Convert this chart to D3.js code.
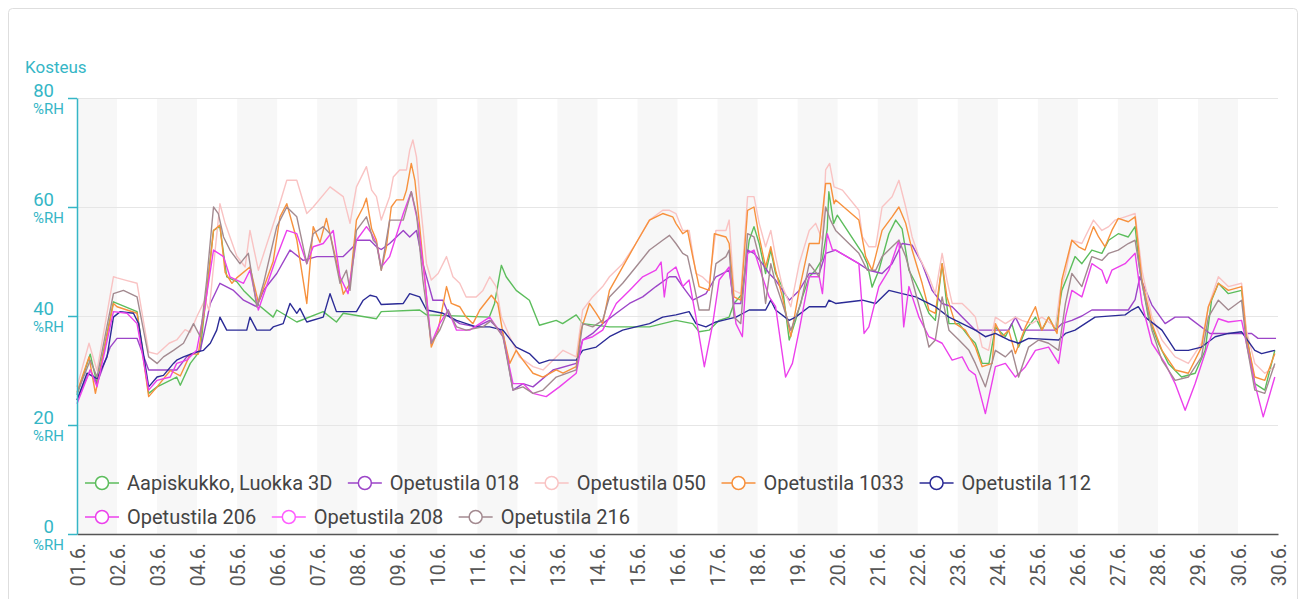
<!DOCTYPE html>
<html>
<head>
<meta charset="utf-8">
<script src="https://cdn.jsdelivr.net/npm/d3@7"></script>
<style>
  body { margin: 0; background: #fff; font-family: Roboto, "Liberation Sans", sans-serif; }
  .grid line { stroke: #e6e6e6; }
  .grid path { display: none; }
  .line { fill: none; stroke-width: 1.4; stroke-linejoin: round; }
</style>
</head>
<body>
<script>
// Data // ----------------------------------------------------------------------
// each point is [days since 01.6. 00:00, relative humidity %RH]
var startDate = new Date(2021, 5, 1);
var endDate = new Date(2021, 5, 30, 23, 59);

var yTicks = [0, 20, 40, 60, 80];
var yUnit = "%RH";
var yTitle = "Kosteus";

var seriesNames = ["Aapiskukko, Luokka 3D", "Opetustila 018", "Opetustila 050", "Opetustila 1033",
                   "Opetustila 112", "Opetustila 206", "Opetustila 208", "Opetustila 216"];

var rhAapiskukko = [[0,25.5],[0.33,33],[0.5,27.6],[0.91,42.6],[1.5,40.8],[1.79,25.8],[2.0,27],[2.49,28.8],[2.58,27.3],[2.83,31.3],[3.08,33.7],[3.24,44.7],[3.41,55.7],[3.57,56.4],[3.74,47.2],[3.99,46.3],[4.16,44.7],[4.49,42.3],[4.9,39.8],[4.99,41.1],[5.49,38.9],[6.15,40.8],[6.48,38.9],[6.65,40.5],[7.48,39.5],[7.6,40.8],[8.56,41.1],[8.73,40.2],[10.3,39.8],[10.43,42.3],[10.6,49.3],[10.72,47.2],[10.97,44.7],[11.3,42.9],[11.55,38.3],[11.97,39.2],[12.13,38.6],[12.47,40.2],[12.63,38.6],[13.3,38],[14.3,38],[14.96,39.2],[15.38,38.6],[15.54,37.1],[15.79,37.4],[16.04,39.2],[16.29,39.8],[16.41,42.3],[16.62,44.1],[16.79,53.9],[16.91,56.4],[17.04,53.3],[17.2,47.8],[17.33,52.1],[17.45,47.8],[17.62,45.3],[17.79,35.6],[17.95,39.2],[18.12,43.5],[18.29,47.2],[18.45,48.4],[18.62,50.5],[18.74,56],[18.78,62.8],[18.9,57],[18.99,58.5],[19.62,51.5],[19.74,49.6],[19.86,45.3],[20.03,48.4],[20.28,55.1],[20.45,57.6],[20.61,56],[20.78,48.4],[20.95,46],[21.11,43.5],[21.28,40.5],[21.44,39.2],[21.61,49.6],[21.78,38.6],[22.03,38.6],[22.28,36.2],[22.44,35],[22.61,31.3],[22.78,31.3],[22.94,38],[23.19,36.2],[23.35,38.6],[23.52,34.3],[23.69,37.4],[23.94,39.8],[24.1,37.4],[24.27,39.8],[24.44,37.4],[24.6,44.7],[24.77,47.8],[24.93,50.9],[25.1,49.6],[25.35,52.1],[25.6,51.5],[25.77,53.9],[26.01,55.1],[26.26,54.5],[26.43,56.4],[26.55,48.4],[26.76,39.8],[27.01,35],[27.26,31.3],[27.59,28.8],[27.93,29.5],[28.18,33.7],[28.34,42.9],[28.51,46],[28.76,44.1],[29.09,44.7],[29.21,36.8],[29.42,27.6],[29.67,26.4],[29.92,33.7]];

var rh018 = [[0,24.6],[0.33,30.1],[0.5,27.6],[0.83,34.3],[1.0,35.9],[1.5,35.9],[1.79,30.1],[2.49,30.1],[2.74,32.5],[3.08,33.7],[3.33,42.3],[3.57,46],[3.91,44.7],[4.16,42.9],[4.49,41.7],[4.66,44.7],[4.99,47.8],[5.32,52.1],[5.65,50.2],[5.99,50.9],[6.65,50.9],[6.9,52.7],[6.98,53.9],[7.32,53.9],[7.48,52.7],[7.6,52.2],[7.81,53.3],[8.15,55.7],[8.31,54.5],[8.48,55.7],[8.64,49.6],[8.89,42.9],[9.14,42.9],[9.31,39.8],[9.56,38.6],[9.97,38],[10.31,39.2],[10.64,36.8],[10.89,26.4],[11.14,27.6],[11.39,27],[11.89,30.1],[12.47,31.3],[12.63,35.6],[12.88,36.8],[13.13,38.6],[13.47,40.5],[13.8,42.3],[14.13,43.5],[14.46,45.4],[14.8,47.2],[14.96,47.2],[15.13,45.4],[15.38,42.9],[15.71,44.1],[15.96,47.2],[16.29,48.4],[16.41,42.3],[16.58,42.3],[16.75,52.1],[16.91,51.5],[17.12,49.6],[17.29,47.8],[17.45,46.6],[17.79,42.9],[18.04,44.7],[18.29,47.8],[18.54,47.8],[18.7,51.5],[18.95,52.1],[19.53,49.6],[19.78,48.4],[20.11,47.8],[20.36,49.6],[20.61,53.3],[20.86,53],[21.11,49.6],[21.36,44.7],[21.61,42.3],[21.86,41.7],[22.11,39.8],[22.44,37.4],[23.27,37.4],[23.44,39.8],[23.6,37.4],[24.44,37.4],[24.6,38.6],[24.85,39.2],[25.1,40],[25.35,41.1],[26.26,41.1],[26.43,43],[26.55,47.2],[26.85,42],[27.18,38.6],[27.43,39.8],[27.76,39.8],[28.3,36.8],[29.34,36.8],[29.5,35.9],[29.95,35.9]];

var rh050 = [[0,27],[0.3,35],[0.5,30],[0.91,47.2],[1.0,47],[1.25,46.5],[1.5,46],[1.79,33.4],[2.0,33],[2.3,35],[2.49,35.6],[2.7,37.5],[2.83,37],[3.0,40],[3.2,43],[3.3,41],[3.45,52],[3.57,60.6],[3.7,57],[3.99,51],[4.2,49],[4.32,55.7],[4.53,48.4],[4.99,58.8],[5.24,64.9],[5.49,64.9],[5.74,58.8],[5.9,60],[6.32,63.7],[6.65,61.9],[6.82,57],[6.98,63.7],[7.23,67.4],[7.36,63.1],[7.48,61.9],[7.6,57.6],[7.81,61.9],[7.9,65.5],[8.06,66.8],[8.23,66.8],[8.31,70.4],[8.39,72.3],[8.48,69.2],[8.56,61.9],[8.73,49.6],[8.85,46.6],[9.02,47.8],[9.23,50.9],[9.39,47.2],[9.56,46],[9.72,43.5],[9.97,43.5],[10.14,44.7],[10.31,47.2],[10.47,45.4],[10.6,39.8],[10.81,36.2],[11.05,32.5],[11.39,30.7],[11.64,30.1],[12.14,33.7],[12.47,32.5],[12.63,41.1],[12.88,43.5],[13.13,45.4],[13.3,47.2],[13.63,49.6],[13.96,53.3],[14.3,57.6],[14.63,59.4],[14.8,59.4],[14.96,58.8],[15.13,55.7],[15.29,55.7],[15.46,47.8],[15.62,47.2],[15.79,46],[15.96,55.7],[16.21,55.7],[16.29,57.6],[16.41,44.7],[16.58,44.1],[16.75,61.9],[16.91,61.9],[17.04,57],[17.2,52.7],[17.33,55.7],[17.45,50.9],[17.62,45.4],[17.83,41.7],[18.04,49.6],[18.29,55.7],[18.45,57],[18.62,53.9],[18.7,66.8],[18.8,68],[18.91,63.7],[19.12,63.1],[19.53,59.4],[19.62,54.5],[19.78,52.7],[19.95,52.7],[20.11,60],[20.36,61.9],[20.53,64.9],[20.7,60],[20.86,54.5],[21.03,50.9],[21.28,47.2],[21.44,44.1],[21.61,51.5],[21.73,46.6],[21.86,42.3],[22.11,42.3],[22.28,41.1],[22.44,39.8],[22.61,34.3],[22.77,33.7],[22.94,39.8],[23.19,38.6],[23.44,39.8],[23.6,39.2],[23.85,38.6],[24.1,39.8],[24.44,38],[24.56,44.7],[24.69,47.8],[24.85,53.9],[25.1,53.3],[25.39,57.6],[25.6,55.7],[25.77,56.4],[25.93,57.6],[26.18,58.2],[26.43,58.8],[26.6,48.4],[26.85,39.8],[27.1,35.6],[27.43,32.5],[27.76,31.3],[28.09,35],[28.26,41.7],[28.51,47.2],[28.76,45.4],[29.09,46],[29.21,37.4],[29.42,31.3],[29.67,29.5],[29.92,30.7]];

var rh1033 = [[0,26],[0.3,32.5],[0.46,25.8],[0.91,42.3],[1.0,41.7],[1.5,40.5],[1.79,25.2],[2.0,27],[2.33,30],[2.58,29],[2.83,33],[3.03,33],[3.24,44],[3.41,55.7],[3.57,56.7],[3.7,48],[3.87,46],[3.99,47],[4.32,49],[4.53,42.5],[4.9,50],[5.07,58.2],[5.24,60.6],[5.49,54],[5.74,42.3],[5.9,56.4],[6.07,53.5],[6.23,57.9],[6.48,50],[6.65,44],[6.82,46],[6.98,57.6],[7.15,60],[7.23,61.6],[7.36,56],[7.48,53.9],[7.6,48.4],[7.73,52.7],[7.85,60],[7.98,61.3],[8.15,61.3],[8.23,63.1],[8.35,68],[8.44,64.9],[8.56,56.4],[8.73,43.5],[8.85,34.3],[9.02,37.4],[9.23,45.4],[9.35,42.3],[9.56,41.7],[9.72,39.8],[9.89,38.6],[10.06,41.1],[10.35,43.8],[10.51,42.3],[10.64,36.8],[10.81,31.3],[10.97,33.7],[11.14,31.9],[11.39,29.5],[11.64,28.8],[11.97,30.1],[12.14,29.5],[12.47,30.7],[12.59,37.4],[12.8,42.3],[12.97,40.5],[13.13,38.6],[13.3,44.7],[13.63,49],[13.96,53.3],[14.3,57.6],[14.63,58.8],[14.88,58.2],[14.96,57],[15.13,55.1],[15.25,55.7],[15.38,50.9],[15.54,45.4],[15.79,44.7],[15.92,55.1],[16.21,54.5],[16.29,53.3],[16.41,43.5],[16.58,42.9],[16.75,59.4],[16.91,60],[17.04,54.5],[17.2,49],[17.33,52.7],[17.45,48.4],[17.62,43.5],[17.83,36.2],[18.04,44.7],[18.29,53.3],[18.54,53.3],[18.7,64.3],[18.82,64.3],[18.91,60.6],[18.95,61.3],[19.53,57.6],[19.7,50.9],[19.86,48.4],[19.95,51],[20.11,55.7],[20.36,58.2],[20.53,60],[20.7,57],[20.86,52.1],[21.11,46],[21.28,41.1],[21.44,40.5],[21.61,49.6],[21.73,43.5],[21.94,38.6],[22.19,37.4],[22.44,34.3],[22.61,30.7],[22.86,31.3],[22.94,38.6],[23.11,36.2],[23.27,37.4],[23.44,33.1],[23.69,38],[23.94,41.7],[24.1,37.4],[24.27,39.8],[24.48,36.8],[24.6,46.6],[24.85,53.9],[25.02,52.7],[25.18,52.1],[25.39,56.4],[25.52,54.5],[25.68,52.7],[25.85,55.7],[26.01,57.9],[26.26,57.3],[26.43,58.2],[26.6,46.6],[26.85,38.6],[27.1,33.7],[27.43,30.1],[27.76,29.5],[28.09,34.3],[28.26,41.7],[28.51,46],[28.76,44.7],[29.09,45.4],[29.21,36.2],[29.42,28.8],[29.67,28.2],[29.92,33.1]];

var rh112 = [[0,24.6],[0.25,29.5],[0.5,28.5],[0.75,32.5],[0.91,39.8],[1.08,40.8],[1.41,40.5],[1.54,38.6],[1.79,27],[2.0,28.8],[2.16,29.1],[2.41,31.3],[2.49,31.9],[2.66,32.5],[2.99,33.4],[3.16,33.7],[3.33,35],[3.49,37.4],[3.57,39.8],[3.74,37.4],[4.24,37.4],[4.32,39.8],[4.49,37.4],[4.82,37.4],[4.9,38],[5.15,38.6],[5.32,42.3],[5.49,40.5],[5.57,41.4],[5.74,38.9],[6.15,39.8],[6.32,44.1],[6.48,40.8],[6.98,40.8],[7.15,42.9],[7.32,43.8],[7.48,43.5],[7.6,42.1],[8.15,42.3],[8.31,44.1],[8.56,43.5],[8.73,41.1],[9.14,40.5],[9.48,39.2],[9.97,38],[10.31,38],[10.64,37.4],[10.97,34.3],[11.3,33.1],[11.55,31.3],[11.8,31.9],[12.47,31.9],[12.63,33.7],[12.97,34.3],[13.3,36.2],[13.63,37.4],[13.96,38],[14.3,38.6],[14.63,39.8],[14.96,40.2],[15.29,40.8],[15.46,38.6],[15.71,38],[15.96,38.9],[16.13,39.2],[16.46,39.8],[16.79,41.1],[17.2,41.1],[17.33,42.9],[17.45,41.1],[17.79,39.2],[17.95,39.8],[18.29,41.7],[18.7,41.7],[18.78,42.9],[18.95,42.3],[19.62,42.9],[19.95,42.3],[20.28,44.7],[20.61,44.1],[20.95,43.5],[21.11,42.9],[21.44,41.7],[21.78,39.8],[22.11,38.6],[22.44,37.4],[22.69,36.2],[22.94,36.8],[23.27,35.6],[23.52,35],[23.77,35.9],[24.52,35.6],[24.69,36.8],[24.93,37.4],[25.18,38.6],[25.43,39.8],[26.18,40.2],[26.35,41.1],[26.51,41.7],[26.68,39.8],[27.1,37.4],[27.43,33.7],[27.76,33.7],[28.09,34.3],[28.43,36.2],[28.76,36.8],[29.09,37.1],[29.42,33.7],[29.59,33.1],[29.92,33.7]];

var rh206 = [[0,23.9],[0.33,30.1],[0.5,27],[0.91,40.8],[1.25,40.5],[1.5,38.6],[1.79,26.4],[2.0,28.2],[2.33,28.8],[2.49,31.3],[2.74,31.9],[2.99,33.7],[3.2,42],[3.41,52.1],[3.66,50.9],[3.82,47.2],[4.16,46],[4.32,48.4],[4.53,41.1],[4.99,50.9],[5.24,55.7],[5.49,55.1],[5.74,49.6],[5.9,52.7],[6.15,53.3],[6.4,55.7],[6.57,47.2],[6.77,44.1],[6.98,53.9],[7.23,56.4],[7.36,55.1],[7.48,53.3],[7.6,49],[7.81,50.9],[8.15,58.8],[8.35,62.8],[8.52,57],[8.69,46.6],[8.85,35],[9.06,38.6],[9.27,41.1],[9.48,37.4],[9.81,37.4],[10.31,39.8],[10.64,36.2],[10.89,27.6],[11.14,27.6],[11.39,25.8],[11.72,25.2],[12.05,27],[12.47,29.5],[12.63,35.6],[12.88,36.2],[13.13,37.4],[13.47,42.3],[13.8,44.7],[14.13,47.2],[14.46,48.4],[14.59,49.9],[14.67,43.5],[14.75,47.8],[14.96,49],[15.13,45.4],[15.29,46.6],[15.46,39.8],[15.67,30.7],[15.88,38.6],[16.04,46.6],[16.29,49],[16.46,38.6],[16.62,36.2],[16.75,51.5],[16.91,52.1],[17.12,47.2],[17.29,43.5],[17.45,41.7],[17.7,28.8],[17.87,31.3],[18.04,37.4],[18.29,47.2],[18.54,47.2],[18.62,44.1],[18.74,55.1],[18.87,52.1],[18.95,52.1],[19.53,49.6],[19.66,36.8],[19.78,38],[20.03,45.4],[20.28,48.4],[20.53,53.9],[20.65,38],[20.78,45.4],[21.03,39.8],[21.28,36.2],[21.61,35],[21.86,31.9],[22.11,32.5],[22.28,30.1],[22.44,29.2],[22.69,22.1],[22.94,30.7],[23.19,31.3],[23.44,28.8],[23.69,30.7],[23.94,33.7],[24.27,34.3],[24.52,31.3],[24.69,39.8],[24.85,44.7],[25.1,43.5],[25.35,49.6],[25.6,48.4],[25.72,46],[25.85,48.4],[26.18,49.6],[26.43,51.5],[26.6,42.3],[26.85,35],[27.18,31.3],[27.43,27.6],[27.68,22.7],[27.93,27.6],[28.26,35],[28.51,39.5],[28.76,38.9],[29.09,39.2],[29.21,35],[29.42,27.6],[29.63,21.5],[29.92,28.8]];

// no separate line for 208 is visible in the picture; only its legend entry shows
var rh208 = [];

var rh216 = [[0,25.8],[0.33,31.9],[0.5,28.8],[0.91,44.1],[1.16,44.7],[1.5,43.5],[1.79,32.5],[2.0,31.3],[2.16,32.5],[2.41,33.7],[2.66,35],[2.91,38.6],[3.08,36.2],[3.24,46.6],[3.41,60],[3.53,58.8],[3.66,54.5],[3.82,52.1],[4.07,49.6],[4.28,51.5],[4.49,41.7],[4.66,46],[4.99,56.4],[5.24,60],[5.49,58.2],[5.74,49.6],[5.9,55.1],[6.15,56.4],[6.32,55.1],[6.57,46],[6.73,48.4],[6.82,44.7],[6.98,55.7],[7.23,58.2],[7.4,53.9],[7.48,53.3],[7.6,48.4],[7.81,57.6],[8.15,57.6],[8.35,62.8],[8.48,58.8],[8.64,46.6],[8.85,35],[9.06,37.4],[9.27,41.1],[9.48,38],[9.72,37.4],[10.14,38],[10.35,39.2],[10.64,36.2],[10.89,26.4],[11.14,27],[11.39,25.8],[11.64,26.4],[11.97,28.8],[12.47,30.1],[12.63,38.6],[12.88,38],[13.13,39.2],[13.3,43.5],[13.63,46],[13.96,49],[14.3,52.1],[14.63,53.9],[14.8,54.8],[14.96,53.3],[15.13,51.5],[15.25,51],[15.42,45.4],[15.54,41.1],[15.79,41.1],[15.96,49.6],[16.21,50.9],[16.29,52.1],[16.41,39.8],[16.58,38.6],[16.75,55.1],[16.91,54.5],[17.08,49.6],[17.2,42.3],[17.33,49.6],[17.45,46],[17.62,42.3],[17.83,37.4],[18.08,42.3],[18.29,49.6],[18.54,47.2],[18.7,60],[18.82,57.6],[18.95,55.7],[19.53,51.5],[19.74,48.4],[19.95,48.4],[20.11,50.9],[20.36,52.7],[20.53,53.9],[20.7,50.9],[20.86,46.6],[21.11,39.8],[21.28,34.3],[21.44,35.6],[21.61,43.5],[21.78,37.4],[22.03,35.6],[22.28,33.7],[22.44,31.3],[22.69,27],[22.94,33.7],[23.19,32.5],[23.35,33.7],[23.52,28.8],[23.77,34.3],[24.02,35.6],[24.27,35],[24.52,33.7],[24.69,42.3],[24.85,47.8],[25.1,45.4],[25.35,50.9],[25.6,50.2],[25.77,51.5],[26.01,52.1],[26.26,53.3],[26.43,53.9],[26.6,46],[26.85,37.4],[27.1,31.9],[27.43,28.2],[27.76,28.8],[28.09,32.5],[28.26,39.8],[28.51,42.9],[28.76,41.1],[29.09,42.9],[29.21,35],[29.42,26.4],[29.67,25.8],[29.92,31.3]];

var seriesValues = [rhAapiskukko, rh018, rh050, rh1033, rh112, rh206, rh208, rh216];
var seriesColors = ["#5cbd5c", "#9c45c8", "#f9c3c3", "#f7913d", "#2b2b96", "#ec40ec", "#ff5cff", "#a38a90"];

// Layout // --------------------------------------------------------------------
var W = 1306, H = 599;
var margin = {top: 98, left: 77, right: 28, bottom: 65};
var teal = "#35b6c6";

var svg = d3.select("body").append("svg")
            .attr("width", W)
            .attr("height", H);

// card border
svg.append("rect")
   .attr("x", 8.5).attr("y", 8.5)
   .attr("width", W - 17).attr("height", H + 10)
   .attr("rx", 4)
   .attr("fill", "#fff")
   .attr("stroke", "#dedede");

var x = d3.scaleTime().domain([startDate, endDate]).range([margin.left, W - margin.right]),
    y = d3.scaleLinear().domain([0, 80]).range([H - margin.bottom, margin.top]);

function dayToDate(d) { return new Date(startDate.getTime() + d * 864e5); }

// alternating day bands
var days = d3.range(30);
svg.append("g").selectAll("rect")
   .data(days.filter(function(d) { return d % 2 === 0; }))
   .enter().append("rect")
   .attr("x", function(d) { return x(dayToDate(d)); })
   .attr("width", function(d) { return x(dayToDate(d + 1)) - x(dayToDate(d)); })
   .attr("y", y(80))
   .attr("height", y(0) - y(80))
   .attr("fill", "#f7f7f7");

// horizontal gridlines
svg.append("g")
   .attr("class", "grid")
   .attr("transform", "translate(" + margin.left + ",0)")
   .call(d3.axisRight(y).tickValues(yTicks.slice(1)).tickSize(x.range()[1] - margin.left).tickFormat(""));

// lines
var valueLine = d3.line()
                  .x(function(d) { return x(dayToDate(d[0])); })
                  .y(function(d) { return y(d[1]); });

seriesValues.forEach(function(vals, i) {
    if (!vals.length) return;
    svg.append("path")
       .datum(vals)
       .attr("class", "line")
       .attr("stroke", seriesColors[i])
       .attr("d", valueLine);
});

// x axis
var xTickValues = days.map(dayToDate).concat([endDate]);
var xAxis = svg.append("g")
   .attr("transform", "translate(0," + y(0) + ")")
   .call(d3.axisBottom(x)
           .tickValues(xTickValues)
           .tickFormat(d3.timeFormat("%d.%-m."))
           .tickSize(0)
           .tickSizeOuter(0));
xAxis.select(".domain").attr("stroke", "#555").attr("stroke-width", 1.5);
xAxis.selectAll("text")
     .attr("transform", "translate(0,9) rotate(-90)")
     .attr("y", 0).attr("dy", "0.36em")
     .attr("x", 0)
     .attr("text-anchor", "end")
     .attr("fill", "#555")
     .style("font-size", "19.5px")
     .style("font-family", "Roboto, sans-serif");

// y axis
var yAxis = svg.append("g")
   .attr("transform", "translate(" + margin.left + ",0)")
   .call(d3.axisLeft(y).tickValues(yTicks).tickSize(9).tickSizeOuter(0).tickPadding(14));
yAxis.select(".domain").attr("stroke", teal).attr("stroke-width", 1.5);
yAxis.selectAll(".tick line").attr("stroke", teal).attr("stroke-width", 1.5);
yAxis.selectAll(".tick text")
     .attr("dy", "-2")
     .attr("fill", teal)
     .style("font-size", "18.5px")
     .style("font-family", "Roboto, sans-serif");
yAxis.selectAll(".tick").append("text")
     .attr("x", -13).attr("y", 15)
     .attr("text-anchor", "end")
     .attr("fill", teal)
     .style("font-size", "15px")
     .style("font-family", "Roboto, sans-serif")
     .text(yUnit);

svg.append("text")
   .attr("x", 25).attr("y", 73)
   .attr("fill", teal)
   .style("font-size", "17px")
   .text(yTitle);

// legend
var legend = svg.append("g");
var lx = 127, ly = 490, legendRight = 1120;
seriesNames.forEach(function(name, i) {
    var item = legend.append("g");
    var t = item.append("text")
                .attr("y", 0)
                .attr("fill", "#444")
                .style("font-size", "20px")
                .text(name);
    var w = t.node().getComputedTextLength();
    if (lx + w > legendRight) { lx = 127; ly += 34; }
    item.attr("transform", "translate(" + lx + "," + ly + ")");
    item.append("line")
        .attr("x1", -42).attr("x2", -8)
        .attr("y1", -7).attr("y2", -7)
        .attr("stroke", seriesColors[i]).attr("stroke-width", 1.5);
    item.append("circle")
        .attr("cx", -25).attr("cy", -7).attr("r", 6.5)
        .attr("fill", "#fff")
        .attr("stroke", seriesColors[i]).attr("stroke-width", 1.5);
    lx += w + 57.5;
});
</script>
</body>
</html>
